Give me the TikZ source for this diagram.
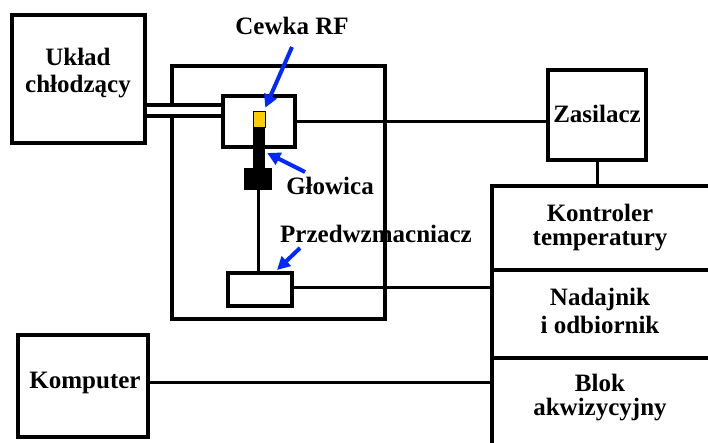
\documentclass[tikz,border=0pt]{standalone}
\usepackage{fontspec}
\setmainfont{Liberation Serif}
\usetikzlibrary{arrows.meta,calc}
\begin{document}
\begin{tikzpicture}[x=1pt,y=-1pt,
  box/.style={draw,rectangle,line width=4pt,inner sep=0pt,outer sep=0pt},
  conn/.style={line width=3pt},
  lbl/.style={anchor=base,inner sep=0pt,font=\fontsize{25}{25}\selectfont\bfseries},
  lbltwo/.style={anchor=north,inner sep=0pt,align=center,font=\fontsize{25}{#1}\selectfont\bfseries},
  bluearrow/.style={draw={rgb,255:red,0;green,40;blue,255},line width=4pt,
    -{Triangle[length=13pt,width=13pt]}},
  pipe/.style={line width=15pt},
  pipein/.style={line width=7pt,white}]
\useasboundingbox (0,0) rectangle (708,443);
\fill[white] (0,0) rectangle (708,443);

% boxes
\node[box,minimum width=133pt,minimum height=128pt] (cool) at (78.5,79) {};
\node[box,minimum width=213pt,minimum height=253pt] (magnet) at (278.5,192.5) {};
\node[box,minimum width=98pt,minimum height=90pt] (zas) at (597,115) {};
\node[box,minimum width=130pt,minimum height=102pt] (komp) at (83,386) {};
\node[box,minimum width=228pt,minimum height=84pt] (ctrl) at (606,228) {};
\node[box,minimum width=228pt,minimum height=88pt] (txrx) at (606,314) {};
\node[box,minimum width=228pt,minimum height=102pt] (acq) at (606,409) {};

% cooling pipe
\coordinate (pipeY) at (0,110.5);
\node[box,minimum width=72pt,minimum height=51pt,fill=white] (coil) at (259,121.5) {};
\draw[pipe] (cool.east |- pipeY) -- (coil.west |- pipeY);
\draw[pipein] ([xshift=2pt]cool.east |- pipeY) -- ([xshift=-2pt]coil.west |- pipeY);
\node[box,minimum width=72pt,minimum height=51pt] (coil2) at (259,121.5) {};

% probe
\node[rectangle,fill={rgb,255:red,255;green,204;blue,0},draw,line width=0.6pt,inner sep=0pt,minimum width=12pt,minimum height=16pt] (ycoil) at (259,119) {};
\node[rectangle,fill=black,inner sep=0pt,minimum width=12pt,minimum height=41pt] (rod) at (259,147.5) {};
\node[rectangle,fill=black,inner sep=0pt,minimum width=28pt,minimum height=22pt] (head) at (258,179) {};
\node[box,minimum width=64pt,minimum height=33pt] (pre) at (260,289.5) {};

% connectors
\draw[conn] (head.south) -- (head.south |- pre.north);
\draw[conn] (coil2.east) -- (coil2.east -| zas.west);
\draw[conn] (zas.south) -- (zas.south |- ctrl.north);
\draw[conn] ([yshift=2.5pt]pre.east) -- ([yshift=2.5pt]pre.east -| txrx.west);
\draw[conn] ([yshift=4pt]komp.east) -- ([yshift=4pt]komp.east -| acq.west);

% labels
\node[lbltwo=27] (tCool) at (78,48) {Układ\\chłodzący};
\node[lbl] (tCewka) at (292,35) {Cewka RF};
\node[lbl] (tGlow) at (330,195) {Głowica};
\node[lbl] (tPre) at (376,243) {Przedwzmacniacz};
\node[lbl] (tZas) at (597,123) {Zasilacz};
\node[lbl] (tKomp) at (85,388) {Komputer};
\node[lbltwo=24] (tCtrl) at (600,204) {Kontroler\\temperatury};
\node[lbltwo=28] (tTx) at (600,288) {Nadajnik\\i odbiornik};
\node[lbltwo=24] (tAcq) at (600,374) {Blok\\akwizycyjny};

% arrows
\coordinate (aC) at (292,47);
\coordinate (aG) at (305,172);
\coordinate (aP) at (300,248);
\draw[bluearrow] (aC) -- ($(ycoil.north east)+(0,-3)$);
\draw[bluearrow] (aG) -- ($(rod.east)+(2,5.5)$);
\draw[bluearrow] (aP) -- ($(pre.north)+(17,-3)$);
\end{tikzpicture}
\end{document}
